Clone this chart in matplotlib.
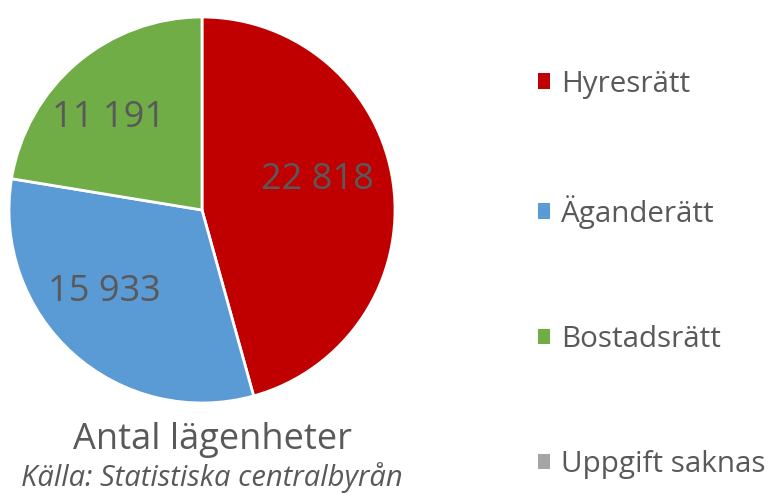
import matplotlib
matplotlib.use("Agg")
import matplotlib.pyplot as plt
import matplotlib.patches as patches
import numpy as np

plt.rcParams['font.family'] = ['Open Sans', 'DejaVu Sans']

# data
kategorier = ["Hyresrätt", "Äganderätt", "Bostadsrätt", "Uppgift saknas"]
antal = [22818, 15933, 11191, 0]
farger = ["#C00000", "#5B9BD5", "#70AD47", "#A5A5A5"]
textfarg = "#595959"

W, H = 779, 498
fig = plt.figure(figsize=(W / 100, H / 100), dpi=100)

# pie axes: centre (202, 210) px, radius 193 px
cx, cy, r = 202, 210, 193
ax = fig.add_axes([(cx - r) / W, (H - cy - r) / H, 2 * r / W, 2 * r / H])

visa = [(v, c) for v, c in zip(antal, farger) if v > 0]
varden = [v for v, c in visa]
summa = sum(varden)


def etikett(pct):
    v = int(round(pct * summa / 100))
    return f"{v:,}".replace(",", " ")


wedges, texts, autotexts = ax.pie(varden, colors=[c for v, c in visa],
                                  startangle=90, counterclock=False,
                                  autopct=etikett, pctdistance=0.66,
                                  wedgeprops=dict(edgecolor='white', linewidth=2),
                                  textprops=dict(color=textfarg, fontsize=26,
                                                 fontweight='medium'))
# nudge labels like the "best fit" placement of the original
vinkel_just = [7, -8, 5]
radie = [0.62, 0.66, 0.68]
for w, t, dv, rr in zip(wedges, autotexts, vinkel_just, radie):
    mitt = np.deg2rad((w.theta1 + w.theta2) / 2 + dv)
    t.set_position((rr * np.cos(mitt), rr * np.sin(mitt)))

ax.set_aspect('equal')
ax.set_xlim(-1, 1)
ax.set_ylim(-1, 1)

# Legend
handles = [patches.Patch(facecolor=c, edgecolor='none') for c in farger]
fig.legend(handles, kategorier, loc='upper left',
           bbox_to_anchor=(511 / W, 1 - 43 / H), frameon=False,
           fontsize=21.3, labelcolor=textfarg, handlelength=0.42, handleheight=0.42,
           handletextpad=0.36, labelspacing=3.25)

fig.text(212 / W, 1 - 440 / H, "Antal lägenheter", ha='center', va='center',
         fontsize=26, color=textfarg)
fig.text(212 / W, 1 - 478 / H, "Källa: Statistiska centralbyrån", ha='center',
         va='center', fontsize=21, style='italic', color=textfarg)

fig.savefig("out.png", dpi=100)
